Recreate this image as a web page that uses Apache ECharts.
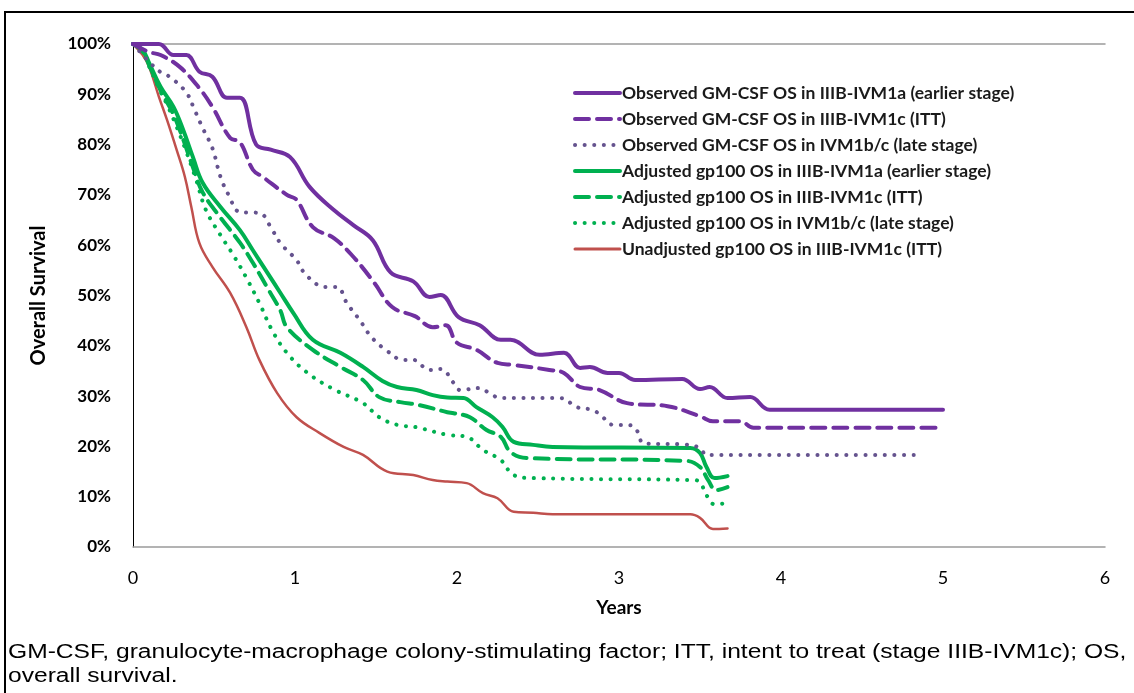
<!DOCTYPE html>
<html><head><meta charset="utf-8">
<script src="https://cdn.jsdelivr.net/npm/echarts@6/dist/echarts.min.js"></script>
<style>html,body{margin:0;padding:0;background:#fff}#c{width:1134px;height:693px}</style>
</head><body><div id="c"></div>
<script>
const seriesNames = [
  'Observed GM-CSF OS in IIIB-IVM1a (earlier stage)',
  'Observed GM-CSF OS in IIIB-IVM1c (ITT)',
  'Observed GM-CSF OS in IVM1b/c (late stage)',
  'Adjusted gp100 OS in IIIB-IVM1a (earlier stage)',
  'Adjusted gp100 OS in IIIB-IVM1c (ITT)',
  'Adjusted gp100 OS in IVM1b/c (late stage)',
  'Unadjusted gp100 OS in IIIB-IVM1c (ITT)'
];
const xTicks = [0,1,2,3,4,5,6];
const yTicks = [0,10,20,30,40,50,60,70,80,90,100];

const obsEarly = [[0,100],[0.16,100],[0.25,97.8],[0.33,97.8],[0.41,94.5],[0.49,93.5],[0.58,89.3],[0.66,89.3],[0.76,80],[0.85,79],[0.97,77.5],[1.09,71.6],[1.24,67],[1.36,64],[1.48,61],[1.59,54.6],[1.73,52.8],[1.83,49.7],[1.9,50.1],[2.01,45.7],[2.14,44.1],[2.27,41.2],[2.33,41.2],[2.51,38.2],[2.66,38.6],[2.76,35.6],[2.82,35.8],[2.93,34.6],[3.0,34.6],[3.1,33.2],[3.39,33.4],[3.5,31.4],[3.56,31.8],[3.67,29.6],[3.81,29.8],[3.93,27.3],[5.0,27.3]];
const obsITT = [[0,100],[0.1,98.4],[0.17,97.8],[0.29,95.4],[0.41,91.2],[0.49,87.5],[0.6,81.3],[0.66,80.5],[0.74,75],[0.8,73.6],[0.95,70],[1.01,69],[1.11,63.6],[1.24,61.4],[1.36,57.7],[1.49,52.5],[1.6,47.7],[1.74,45.9],[1.85,43.7],[1.93,44.1],[2.0,40.6],[2.12,39.2],[2.25,36.6],[2.35,36.2],[2.57,35.2],[2.66,34.6],[2.76,31.8],[2.88,31.2],[3.05,28.6],[3.3,28],[3.5,26],[3.58,25],[3.75,25],[3.83,23.7],[5.0,23.7]];
const obsLate = [[0,100],[0.09,96.8],[0.17,94.4],[0.23,93.4],[0.33,90.3],[0.38,86.9],[0.43,83.3],[0.49,79.3],[0.54,73.6],[0.59,70],[0.66,66.6],[0.78,66.4],[0.86,63],[0.91,60.4],[1.01,57],[1.07,54],[1.19,51.7],[1.26,51.7],[1.32,48.5],[1.4,45.1],[1.47,41.8],[1.56,39.2],[1.67,37.2],[1.73,37.2],[1.83,35.2],[1.9,35.4],[1.98,32.6],[2.02,31.2],[2.14,31.6],[2.2,30.6],[2.27,29.6],[2.64,29.6],[2.74,27.8],[2.84,27.2],[2.9,25.8],[2.96,24.3],[3.07,24.2],[3.12,22.7],[3.15,20.6],[3.39,20.4],[3.5,19.7],[3.54,18.3],[4.82,18.3]];
const adjEarly = [[0,100],[0.06,98.8],[0.1,96.2],[0.17,91.5],[0.25,87.5],[0.31,82.9],[0.37,77.5],[0.43,72.4],[0.54,67.6],[0.66,63],[0.74,59],[0.83,54.5],[0.91,50.5],[0.99,46.5],[1.11,41.2],[1.28,38.6],[1.42,35.8],[1.54,33],[1.63,31.8],[1.75,31.2],[1.85,30.2],[1.94,29.7],[2.04,29.6],[2.12,27.8],[2.22,25.8],[2.28,23.9],[2.35,20.9],[2.47,20.3],[2.59,19.9],[3.44,19.7],[3.5,18.7],[3.54,15.9],[3.59,13.7],[3.67,14.1]];
const adjITT = [[0,100],[0.06,98.5],[0.1,95.8],[0.17,90.8],[0.25,86],[0.31,81],[0.37,75.5],[0.43,70.5],[0.54,65.5],[0.66,60.5],[0.74,56.5],[0.83,51.5],[0.91,47],[0.95,43.7],[1.11,39.2],[1.28,35.8],[1.42,33.2],[1.52,29.8],[1.65,28.8],[1.77,28.2],[1.94,26.8],[1.98,26.6],[2.08,25.8],[2.18,23.3],[2.27,21.9],[2.33,18.9],[2.43,17.7],[3.42,17.1],[3.5,15.9],[3.55,13.3],[3.6,11.3],[3.67,11.9]];
const adjLate = [[0,100],[0.06,98.3],[0.1,95.5],[0.17,90.5],[0.21,88],[0.27,83.5],[0.33,78.5],[0.39,73],[0.45,67],[0.54,62],[0.62,58],[0.7,53.5],[0.78,48.5],[0.86,43],[0.95,38.6],[1.07,34.8],[1.23,31.5],[1.42,28.6],[1.52,25.8],[1.63,24.3],[1.75,23.8],[1.94,22.3],[2.06,21.9],[2.16,19.3],[2.27,17.3],[2.35,14.3],[2.47,13.7],[3.46,13.3],[3.5,12.9],[3.54,10.3],[3.59,8.5],[3.66,8.7]];
const unadjITT = [[0,100],[0.06,97.8],[0.1,95.4],[0.16,89.5],[0.21,84.9],[0.27,78.9],[0.32,73.6],[0.36,67.6],[0.41,60.4],[0.49,55.7],[0.6,50.5],[0.7,43.7],[0.78,37.2],[0.89,30.6],[1.01,25.8],[1.15,22.7],[1.3,19.9],[1.42,18.3],[1.57,15],[1.73,14.3],[1.85,13.3],[1.94,13],[2.06,12.7],[2.16,10.7],[2.25,9.7],[2.35,7],[2.47,6.8],[2.59,6.5],[3.44,6.5],[3.5,5.8],[3.58,3.6],[3.67,3.7]];

const footnote1 = 'GM-CSF, granulocyte-macrophage colony-stimulating factor; ITT, intent to treat (stage IIIB-IVM1c); OS,';
const footnote2 = 'overall survival.';

const PURPLE = '#7030A0', PURPLE_DOT = '#65538E', GREEN = '#00B050', RED = '#C0504D';
const dataSets = [obsEarly, obsITT, obsLate, adjEarly, adjITT, adjLate, unadjITT];
const styles = [
  {color: PURPLE, width: 4, type: 'solid'},
  {color: PURPLE, width: 4, type: [14, 8]},
  {color: PURPLE_DOT, width: 4, type: [0.1, 9.5]},
  {color: GREEN, width: 4, type: 'solid'},
  {color: GREEN, width: 4, type: [14, 8]},
  {color: GREEN, width: 4, type: [0.1, 9.5]},
  {color: RED, width: 3, type: 'solid'}
];

const chart = echarts.init(document.getElementById('c'), null, {renderer: 'canvas'});
const series = dataSets.map((d, i) => ({
  name: seriesNames[i], type: 'line', data: d, showSymbol: false, symbol: 'none',
  smooth: 0.4, z: 10 - i,
  lineStyle: {color: styles[i].color, width: i === 6 ? 2.5 : styles[i].width, type: styles[i].type, cap: 'round', join: 'round'},
  itemStyle: {color: styles[i].color}
}));

const legendData = seriesNames.map((n, i) => ({
  name: n,
  itemStyle: {opacity: 0},
  lineStyle: {color: styles[i].color, width: styles[i].width, type: styles[i].type, cap: 'round'}
}));

const FOOT_SIZE = 20;
const FOOT_SCALE = 1.23;

chart.setOption({
  animation: false,
  grid: {left: 133, top: 44, width: 972, height: 503, containLabel: false},
  legend: {
    orient: 'vertical', left: 568, top: 78, itemWidth: 45, itemHeight: 14, itemGap: 6,
    itemStyle: {opacity: 0},
    lineStyle: {width: 4, cap: 'round'},
    textStyle: {fontFamily: 'Lato', fontWeight: 'bold', fontSize: 17.5, lineHeight: 20, color: '#1a1a1a', padding: [0, 0, 0, -3]},
    data: legendData
  },
  xAxis: [{
    type: 'value', min: xTicks[0], max: xTicks[xTicks.length - 1], interval: 1,
    name: 'Years', nameLocation: 'middle', nameGap: 51,
    nameTextStyle: {fontFamily: 'Lato', fontWeight: 'bold', fontSize: 19, color: '#000'},
    axisLine: {show: true, lineStyle: {color: '#9a9a9a', width: 1.5}},
    axisTick: {show: false}, splitLine: {show: false},
    axisLabel: {fontFamily: 'Lato', fontSize: 18, color: '#000', margin: 22}
  }, {
    type: 'value', position: 'top', min: 0, max: 6,
    axisLine: {show: true, lineStyle: {color: '#9a9a9a', width: 1.5}},
    axisTick: {show: false}, axisLabel: {show: false}, splitLine: {show: false}
  }],
  yAxis: {
    type: 'value', min: yTicks[0], max: yTicks[yTicks.length - 1], interval: 10,
    name: 'Overall Survival', nameLocation: 'middle', nameGap: 84, nameRotate: 90,
    nameTextStyle: {fontFamily: 'Lato', fontWeight: 'bold', fontSize: 20, color: '#000'},
    axisLine: {show: true, lineStyle: {color: '#000', width: 1}},
    axisTick: {show: false}, splitLine: {show: false},
    axisLabel: {formatter: v => v + '%', fontFamily: 'Lato', fontWeight: 'bold', fontSize: 17, color: '#000', margin: 22}
  },
  graphic: [
    {type: 'rect', shape: {x: 5, y: 12, width: 1200, height: 800}, style: {fill: 'none', stroke: '#000', lineWidth: 2}, silent: true},
    {type: 'text', x: 8, y: 642, scaleX: FOOT_SCALE, originX: 0, style: {text: footnote1, font: FOOT_SIZE + 'px "Liberation Sans"', fill: '#000'}},
    {type: 'text', x: 8, y: 666, scaleX: FOOT_SCALE, originX: 0, style: {text: footnote2, font: FOOT_SIZE + 'px "Liberation Sans"', fill: '#000'}}
  ],
  series: series
});
</script></body></html>
